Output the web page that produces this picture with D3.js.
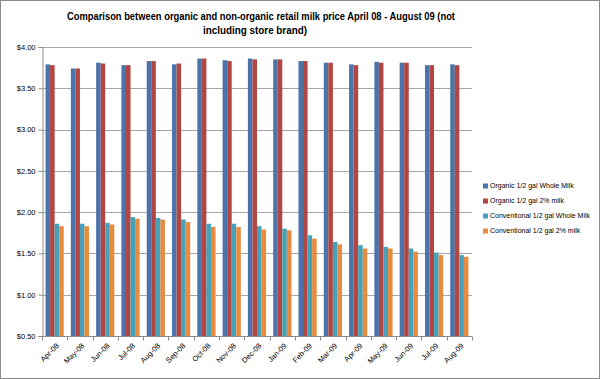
<!DOCTYPE html>
<html>
<head>
<meta charset="utf-8">
<script src="https://cdn.jsdelivr.net/npm/d3@7"></script>
<style>
  body { margin: 0; background: #fff; }
  svg { display: block; font-family: "Liberation Sans", Arial, sans-serif; }
</style>
</head>
<body>
<div id="chart"></div>
<script>
// months on the x axis
const months = ["Apr-08", "May-08", "Jun-08", "Jul-08", "Aug-08", "Sep-08", "Oct-08", "Nov-08", "Dec-08",
                "Jan-09", "Feb-09", "Mar-09", "Apr-09", "May-09", "Jun-09", "Jul-09", "Aug-09"];

const seriesNames = ["Organic 1/2 gal Whole Milk", "Organic 1/2 gal 2% milk",
                     "Conventional 1/2 gal Whole Milk", "Conventional 1/2 gal 2% milk"];

const organicWhole = [3.79, 3.74, 3.81, 3.78, 3.83, 3.79, 3.86, 3.84, 3.86, 3.85, 3.83, 3.81, 3.79, 3.82, 3.81, 3.78, 3.79];
const organic2pct  = [3.78, 3.74, 3.80, 3.78, 3.83, 3.80, 3.86, 3.83, 3.85, 3.85, 3.83, 3.81, 3.78, 3.81, 3.81, 3.78, 3.78];
const convWhole    = [1.86, 1.86, 1.87, 1.94, 1.93, 1.91, 1.86, 1.86, 1.83, 1.80, 1.72, 1.64, 1.60, 1.58, 1.56, 1.51, 1.48];
const conv2pct     = [1.83, 1.83, 1.85, 1.92, 1.91, 1.88, 1.82, 1.82, 1.79, 1.78, 1.68, 1.61, 1.56, 1.56, 1.52, 1.48, 1.46];

const yTicks = [0.5, 1.0, 1.5, 2.0, 2.5, 3.0, 3.5, 4.0];
const colors = ["#4A74AA", "#B24643", "#45A2BA", "#E88B3F"];

const allSeries = [organicWhole, organic2pct, convWhole, conv2pct];

const W = 600, H = 379;
const plot = { left: 42, right: 472, top: 47, bottom: 336 };

const svg = d3.select("#chart").append("svg")
  .attr("width", W).attr("height", H);

// outer frame
svg.append("rect")
  .attr("x", 0.5).attr("y", 0.5)
  .attr("width", W - 1).attr("height", H - 1)
  .attr("fill", "#fff").attr("stroke", "#8c8c8c");

// title (squeezed to the narrow width of the original font)
const title = svg.append("text")
  .attr("text-anchor", "middle")
  .attr("font-weight", "bold")
  .attr("font-size", 11.5)
  .attr("fill", "#000");
title.append("tspan").attr("x", 261).attr("y", 20)
  .attr("textLength", 388).attr("lengthAdjust", "spacingAndGlyphs")
  .text("Comparison between organic and non-organic retail milk price April 08 - August 09  (not");
title.append("tspan").attr("x", 255).attr("y", 34)
  .attr("textLength", 104).attr("lengthAdjust", "spacingAndGlyphs")
  .text("including store brand)");

const x = d3.scaleBand()
  .domain(months)
  .range([plot.left, plot.right])
  .paddingInner(0.28)
  .paddingOuter(0.14);

const xs = d3.scaleBand()
  .domain(d3.range(4))
  .range([0, x.bandwidth()]);

const y = d3.scaleLinear()
  .domain([0.5, 4.0])
  .range([plot.bottom, plot.top]);

// gridlines
svg.append("g")
  .selectAll("line")
  .data(yTicks.filter(d => d > 0.5))
  .join("line")
  .attr("x1", plot.left).attr("x2", plot.right)
  .attr("y1", d => Math.round(y(d)) + 0.5)
  .attr("y2", d => Math.round(y(d)) + 0.5)
  .attr("stroke", "#a6a6a6");

// y axis
const yAxis = svg.append("g")
  .attr("transform", `translate(${plot.left + 0.5},0)`)
  .call(d3.axisLeft(y).tickValues(yTicks).tickFormat(d3.format("$.2f")).tickSize(4).tickPadding(3));
yAxis.select(".domain").attr("stroke", "#8c8c8c");
yAxis.selectAll(".tick line").attr("stroke", "#8c8c8c");
yAxis.selectAll(".tick text").attr("font-size", 7.5).attr("fill", "#000");

// bars
const groups = svg.append("g")
  .selectAll("g")
  .data(months)
  .join("g")
  .attr("transform", d => `translate(${x(d)},0)`);

groups.selectAll("rect")
  .data((m, i) => allSeries.map((s, k) => ({ k, v: s[i] })))
  .join("rect")
  .attr("x", d => xs(d.k))
  .attr("y", d => y(d.v))
  .attr("width", xs.bandwidth())
  .attr("height", d => plot.bottom - y(d.v))
  .attr("fill", d => colors[d.k]);

// x axis with ticks between categories
const xAxisG = svg.append("g")
  .attr("transform", `translate(0,${plot.bottom + 0.5})`);
xAxisG.append("line")
  .attr("x1", plot.left).attr("x2", plot.right)
  .attr("stroke", "#8c8c8c");
const step = x.step();
xAxisG.selectAll("line.tk")
  .data(d3.range(months.length + 1))
  .join("line")
  .attr("class", "tk")
  .attr("x1", i => Math.round(plot.left + i * step) + 0.5)
  .attr("x2", i => Math.round(plot.left + i * step) + 0.5)
  .attr("y1", 0).attr("y2", 4)
  .attr("stroke", "#8c8c8c");

xAxisG.selectAll("text")
  .data(months)
  .join("text")
  .attr("transform", d => `translate(${x(d) + x.bandwidth() / 2 + 3},8) rotate(-45)`)
  .attr("text-anchor", "end")
  .attr("dy", "0.35em")
  .attr("font-size", 7.5)
  .attr("fill", "#000")
  .text(d => d);

// legend
const legend = svg.append("g")
  .selectAll("g")
  .data(seriesNames)
  .join("g")
  .attr("transform", (d, i) => `translate(483,${186 + i * 15})`);
legend.append("rect")
  .attr("x", 0).attr("y", -2.5)
  .attr("width", 5).attr("height", 5)
  .attr("fill", (d, i) => colors[i]);
legend.append("text")
  .attr("x", 7).attr("dy", "0.35em")
  .attr("font-size", 7)
  .attr("fill", "#000")
  .text(d => d);
</script>
</body>
</html>
